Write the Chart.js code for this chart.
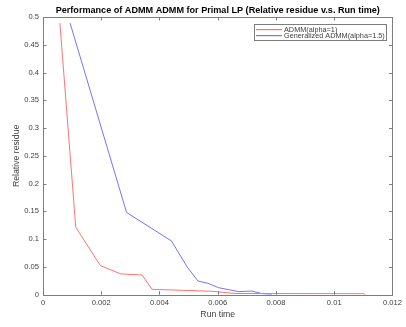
<!DOCTYPE html>
<html>
<head>
<meta charset="utf-8">
<script src="https://cdn.jsdelivr.net/npm/chart.js@4.4.1/dist/chart.umd.min.js"></script>
<style>
html,body{margin:0;padding:0;background:#fff;}
#wrap{width:406px;height:327px;position:relative;}
</style>
</head>
<body>
<div id="wrap"><canvas id="c" width="406" height="327"></canvas></div>
<script>
const chartTitle = "Performance of ADMM ADMM for Primal LP (Relative residue v.s. Run time)";
const xAxisTitle = "Run time";
const yAxisTitle = "Relative residue";
const seriesNames = ["ADMM(alpha=1)", "Generalized ADMM(alpha=1.5)"];
const seriesColors = ["#ff7373", "#7373ff"];

const admmTime = [0.00058, 0.001125, 0.00197, 0.00268, 0.0034, 0.00374, 0.0058, 0.0066, 0.011, 0.01107];
const admmResidue = [0.489, 0.1215, 0.0523, 0.0373, 0.0355, 0.0097, 0.0062, 0.0022, 0.0018, 0];

const genTime = [0.00093, 0.00287, 0.00441, 0.00495, 0.00532, 0.00566, 0.00603, 0.00672, 0.00717, 0.0075, 0.00785];
const genResidue = [0.489, 0.148, 0.0968, 0.050, 0.0247, 0.0205, 0.0126, 0.0055, 0.0066, 0.002, 0.0007];

const xTicks = [0, 0.002, 0.004, 0.006, 0.008, 0.01, 0.012];
const yTicks = [0, 0.05, 0.1, 0.15, 0.2, 0.25, 0.3, 0.35, 0.4, 0.45, 0.5];

const FONT = "'Liberation Sans', Arial, Helvetica, sans-serif";
const axisColor = "#7d7d7d";
const textColor = "#404040";

function pts(xs, ys){ return xs.map((x,i)=>({x:x, y:ys[i]})); }

const matlabPlugin = {
  id: 'matlab',
  afterDraw(chart){
    const ctx = chart.ctx, a = chart.chartArea;
    const xs = chart.scales.x, ys = chart.scales.y;
    ctx.save();
    ctx.strokeStyle = axisColor; ctx.lineWidth = 1;
    ctx.strokeRect(Math.round(a.left)+0.5, Math.round(a.top)+0.5, Math.round(a.right-a.left), Math.round(a.bottom-a.top));
    const tl = 3.5;
    ctx.beginPath();
    xTicks.forEach(v=>{
      const p = Math.round(xs.getPixelForValue(v))+0.5;
      ctx.moveTo(p, a.bottom); ctx.lineTo(p, a.bottom-tl);
      ctx.moveTo(p, a.top); ctx.lineTo(p, a.top+tl);
    });
    yTicks.forEach(v=>{
      const p = Math.round(ys.getPixelForValue(v))+0.5;
      ctx.moveTo(a.left, p); ctx.lineTo(a.left+tl, p);
      ctx.moveTo(a.right, p); ctx.lineTo(a.right-tl, p);
    });
    ctx.stroke();
    ctx.fillStyle = "#000";
    ctx.font = "bold 9.1px " + FONT;
    ctx.textAlign = "center"; ctx.textBaseline = "middle";
    ctx.fillText(chartTitle, (a.left+a.right)/2, 10);
    const lx = 254.5, ly = 24.5, lw = 132, lh = 16;
    ctx.fillStyle = "#fff";
    ctx.fillRect(lx, ly, lw, lh);
    ctx.strokeStyle = axisColor;
    ctx.strokeRect(lx, ly, lw, lh);
    ctx.font = "7.3px " + FONT;
    ctx.textAlign = "left";
    seriesNames.forEach((name,i)=>{
      const y = 29.5 + i*6;
      ctx.fillStyle = seriesColors[i];
      ctx.fillRect(256, y - 0.5, 26, 1.2);
      ctx.fillStyle = textColor;
      ctx.fillText(name, 284, y);
    });
    ctx.restore();
  }
};

new Chart(document.getElementById('c'), {
  type: 'line',
  data: {
    datasets: [
      { label: seriesNames[0], data: pts(admmTime, admmResidue), borderColor: seriesColors[0], borderWidth: 1, pointRadius: 0, fill: false, tension: 0 },
      { label: seriesNames[1], data: pts(genTime, genResidue), borderColor: seriesColors[1], borderWidth: 1, pointRadius: 0, fill: false, tension: 0 }
    ]
  },
  options: {
    responsive: false,
    animation: false,
    devicePixelRatio: 1,
    layout: { padding: { top: 17, right: 11, left: 0, bottom: 0 } },
    plugins: { legend: { display: false }, title: { display: false }, tooltip: { enabled: false } },
    scales: {
      x: {
        type: 'linear', min: 0, max: 0.012,
        afterBuildTicks(s){ s.ticks = xTicks.map(v=>({value:v})); },
        afterFit(s){ s.height = 32.3; },
        grid: { display: false, drawTicks: false },
        border: { display: false },
        ticks: { color: textColor, font: { family: FONT, size: 7.6 }, padding: 4, maxRotation: 0, autoSkip: false,
          callback: v => String(+v.toFixed(4)) },
        title: { display: true, text: xAxisTitle, color: textColor, font: { family: FONT, size: 8.7 }, padding: { top: 0, bottom: 7.5 } }
      },
      y: {
        type: 'linear', min: 0, max: 0.5,
        afterBuildTicks(s){ s.ticks = yTicks.map(v=>({value:v})); },
        afterFit(s){ s.width = 43; },
        grid: { display: false, drawTicks: false },
        border: { display: false },
        ticks: { color: textColor, font: { family: FONT, size: 7.6 }, padding: 4, autoSkip: false,
          callback: v => String(+v.toFixed(3)) },
        title: { display: true, text: yAxisTitle, color: textColor, font: { family: FONT, size: 8.7 }, padding: { top: 11.5, bottom: 0 } }
      }
    }
  },
  plugins: [matlabPlugin]
});
</script>
</body>
</html>
